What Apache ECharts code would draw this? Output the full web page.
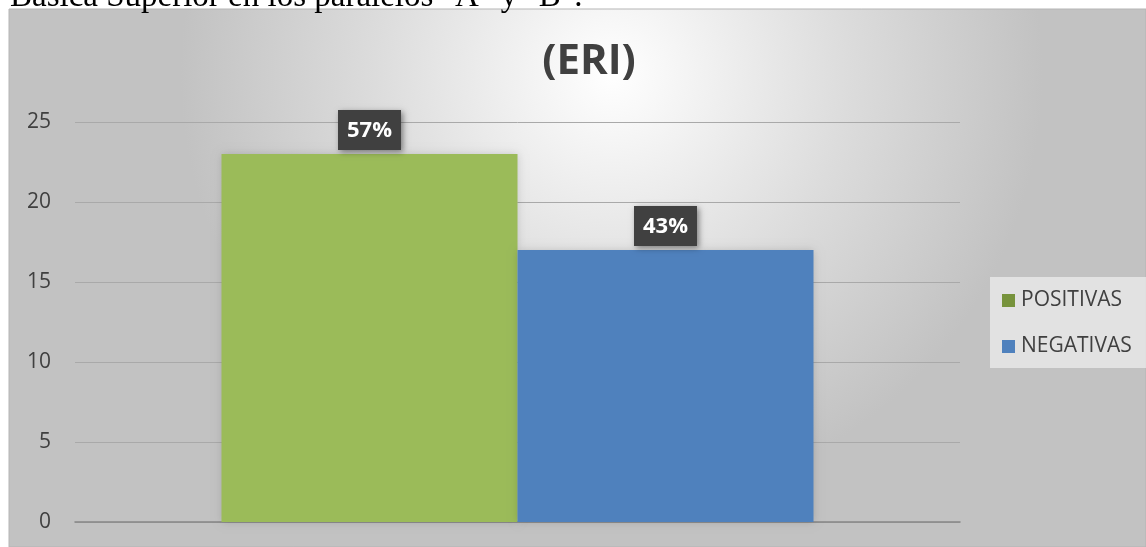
<!DOCTYPE html>
<html>
<head>
<meta charset="utf-8">
<script src="https://cdn.jsdelivr.net/npm/echarts@6/dist/echarts.min.js"></script>
<style>html,body{margin:0;padding:0;background:#fff;}#c{width:1146px;height:547px;}</style>
</head>
<body>
<div id="c"></div>
<script>
const categories = [''];
const seriesNames = ['POSITIVAS', 'NEGATIVAS'];
const positivas = [23];
const negativas = [17];
const percentLabels = ['57%', '43%'];
const yTicks = [0, 5, 10, 15, 20, 25];

const chart = echarts.init(document.getElementById('c'), null, {renderer: 'canvas'});
const labelStyle = (txt) => ({
  show: true, position: 'top', distance: 4,
  formatter: () => txt,
  color: '#fff', fontWeight: 'bold', fontSize: 22, fontFamily: 'Open Sans',
  backgroundColor: '#404040', padding: [10, 9, 8, 9],
  shadowColor: 'rgba(0,0,0,0.45)', shadowBlur: 6, shadowOffsetX: 2, shadowOffsetY: 2
});
chart.setOption({
  backgroundColor: '#ffffff',
  animation: false,
  graphic: [
    {type: 'rect', z: -10, silent: true, shape: {x: 9, y: 9, width: 1137, height: 538},
     style: {fill: new echarts.graphic.RadialGradient(0.53, 0.12, 0.8, [
        {offset: 0, color: '#ffffff'}, {offset: 0.55, color: '#dcdcdc'}, {offset: 1, color: '#c2c2c2'}]),
        stroke: '#b5b5b5', lineWidth: 1}},
    {type: 'rect', z: -5, silent: true, shape: {x: 990, y: 277, width: 156, height: 91},
     style: {fill: 'rgba(236,236,236,0.75)'}},
    {type: 'text', z: 10, x: 10, y: 14,
     style: {text: 'Básica Superior en los paralelos "A" y "B".', font: '33px "Liberation Serif"', fill: '#000', verticalAlign: 'bottom'}}
  ],
  title: {text: '(ERI)', left: 584, top: 36, textAlign: 'center',
    textStyle: {fontSize: 42, fontWeight: 'bold', color: '#404040', fontFamily: 'Open Sans'}},
  legend: {orient: 'vertical', left: 1002, top: 290, itemWidth: 13, itemHeight: 13, itemGap: 25,
    icon: 'rect', padding: 0,
    textStyle: {fontSize: 21, color: '#404040', fontFamily: 'Open Sans', padding: [0, 0, 0, 1]},
    data: [{name: seriesNames[0], itemStyle: {color: '#77933C'}}, {name: seriesNames[1], itemStyle: {color: '#4F81BD'}}]},
  grid: {left: 75, right: 186, top: 122, bottom: 25, containLabel: false},
  xAxis: {type: 'category', data: categories, axisTick: {show: false}, axisLabel: {show: false},
    axisLine: {lineStyle: {color: '#868686', width: 1.5}}},
  yAxis: {type: 'value', min: yTicks[0], max: yTicks[yTicks.length - 1], interval: 5,
    axisLine: {show: false}, axisTick: {show: false},
    axisLabel: {fontSize: 21, color: '#404040', fontFamily: 'Open Sans', margin: 24},
    splitLine: {lineStyle: {color: '#a9a9a9', width: 1}}},
  series: [
    {name: seriesNames[0], type: 'bar', data: positivas, barWidth: 296, barGap: '0%',
     itemStyle: {color: '#9BBB59', shadowColor: 'rgba(0,0,0,0.15)', shadowBlur: 8},
     label: labelStyle(percentLabels[0])},
    {name: seriesNames[1], type: 'bar', data: negativas, barWidth: 296, barGap: '0%',
     itemStyle: {color: '#4F81BD', shadowColor: 'rgba(0,0,0,0.15)', shadowBlur: 8},
     label: labelStyle(percentLabels[1])}
  ]
});
</script>
</body>
</html>
